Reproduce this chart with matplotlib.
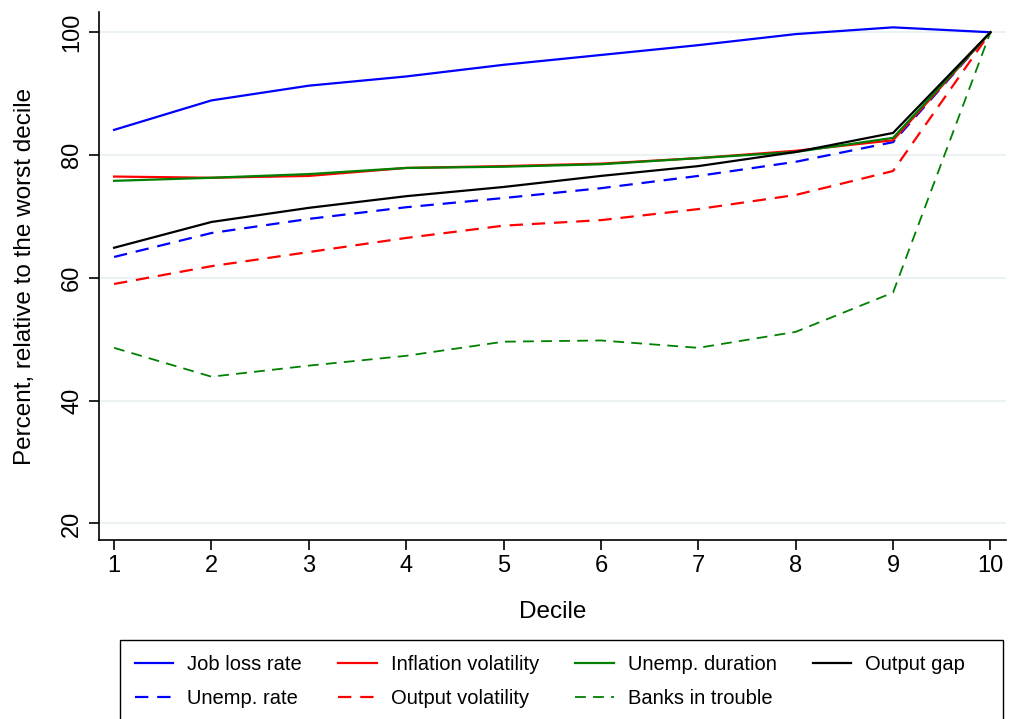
import numpy as np
import matplotlib.pyplot as plt
from matplotlib.patches import Rectangle

plt.rcParams['font.family'] = ['Liberation Sans', 'DejaVu Sans']

decile = [1, 2, 3, 4, 5, 6, 7, 8, 9, 10]

job_loss = [84.1, 88.9, 91.3, 92.8, 94.7, 96.3, 97.9, 99.7, 100.8, 100]
unemp_rate = [63.4, 67.3, 69.6, 71.5, 73.0, 74.6, 76.6, 78.9, 82.1, 100]
infl_vol = [76.5, 76.3, 76.6, 77.9, 78.2, 78.6, 79.5, 80.7, 82.4, 100]
output_vol = [59.0, 61.9, 64.2, 66.5, 68.5, 69.4, 71.2, 73.5, 77.4, 100]
unemp_dur = [75.8, 76.3, 76.9, 77.9, 78.1, 78.5, 79.5, 80.5, 82.8, 100]
banks = [48.6, 43.9, 45.7, 47.3, 49.6, 49.8, 48.6, 51.2, 57.6, 100]
output_gap = [64.9, 69.1, 71.4, 73.3, 74.8, 76.6, 78.2, 80.5, 83.6, 100]

fig = plt.figure(figsize=(10.1, 7.19), dpi=100)
ax = fig.add_axes([98.5 / 1010, 1 - 540 / 719, (1006 - 98.5) / 1010, (540 - 12) / 719])

dash = (0, (6, 4))
l1, = ax.plot(decile, job_loss, color='#0000ff', lw=1.6, label='Job loss rate')
l2, = ax.plot(decile, unemp_rate, color='#0000ff', lw=1.6, ls=dash, label='Unemp. rate')
l3, = ax.plot(decile, infl_vol, color='#ff0000', lw=1.6, label='Inflation volatility')
l4, = ax.plot(decile, output_vol, color='#ff0000', lw=1.6, ls=dash, label='Output volatility')
l5, = ax.plot(decile, unemp_dur, color='#008000', lw=1.6, label='Unemp. duration')
l6, = ax.plot(decile, banks, color='#008000', lw=1.3, ls=dash, label='Banks in trouble')
l7, = ax.plot(decile, output_gap, color='#000000', lw=1.6, label='Output gap')

ax.set_xlim(0.84, 10.16)
ax.set_ylim(17.3, 103.3)
ax.set_xticks(decile)
ax.set_yticks([20, 40, 60, 80, 100])
ax.set_yticklabels(['20', '40', '60', '80', '100'], rotation=90, va='center')
ax.tick_params(labelsize=17, length=7, width=1.2, color='black', pad=4)
ax.grid(axis='y', color='#eaf2f3', lw=1.5)
ax.set_axisbelow(True)
for s in ['top', 'right']:
    ax.spines[s].set_visible(False)
for s in ['left', 'bottom']:
    ax.spines[s].set_linewidth(1.2)

ax.set_xlabel('Decile', fontsize=17.5, labelpad=17)
ax.set_ylabel('Percent, relative to the worst decile', fontsize=17.5, labelpad=18)

# legend box drawn by hand so it spans the same width as in the original
fig.patches.append(Rectangle((120 / 1010, -0.02), (1003 - 120) / 1010, 1 - 640 / 719 + 0.02,
                             transform=fig.transFigure, fill=False, edgecolor='black', lw=1.0))

handles = [l1, l2, l3, l4, l5, l6, l7]
leg = fig.legend(handles=handles, ncol=4, loc='upper left',
                 bbox_to_anchor=(120 / 1010, 1 - 640 / 719),
                 fontsize=14.5, frameon=False, handlelength=1.9, borderpad=0.75,
                 labelspacing=0.75, handletextpad=0.7, columnspacing=1.8, borderaxespad=0)

fig.savefig('out.png', dpi=100, facecolor='white')
